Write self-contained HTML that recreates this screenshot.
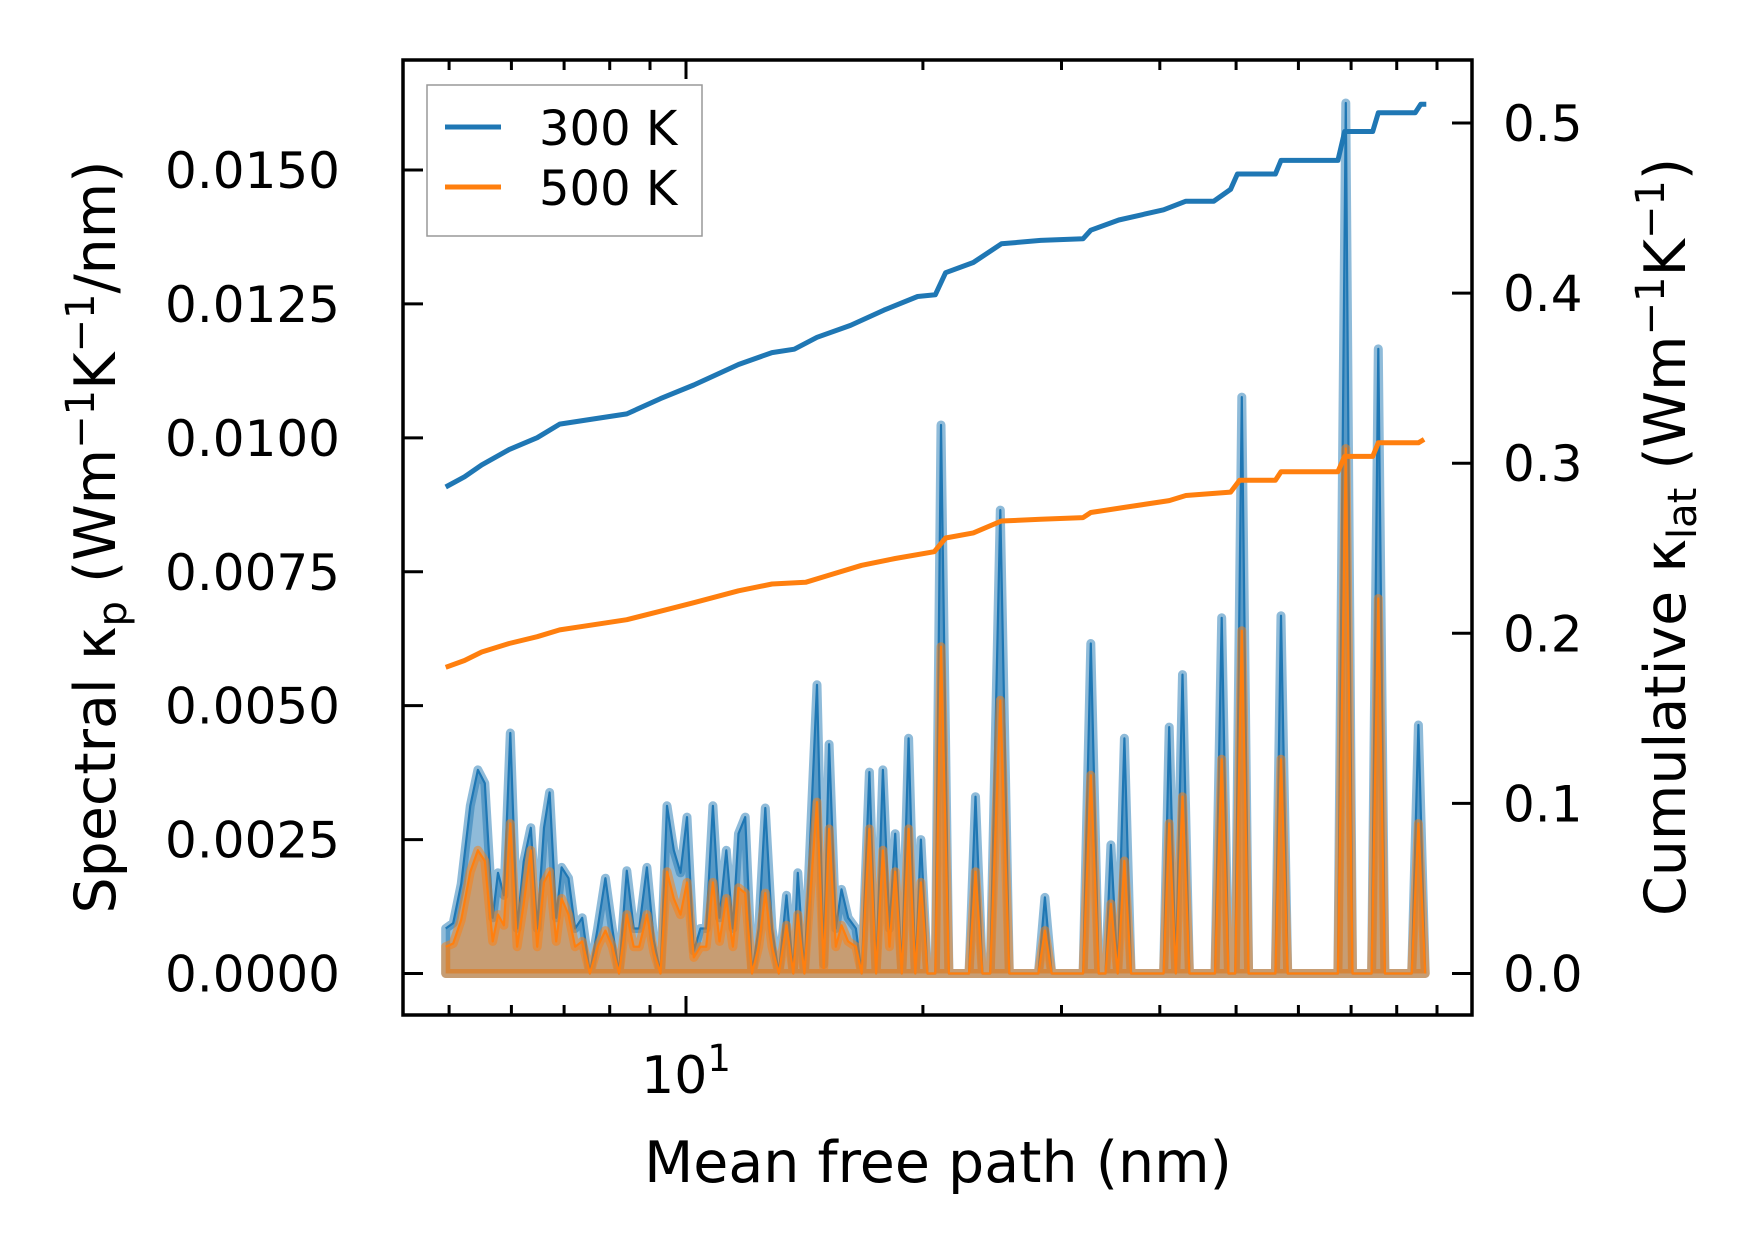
<!DOCTYPE html>
<html><head><meta charset="utf-8">
<style>
html,body{margin:0;padding:0;background:#fff;}
svg{display:block;font-family:"DejaVu Sans","Liberation Sans",sans-serif;}
</style></head>
<body>
<svg id="chart" width="1753" height="1253" viewBox="0 0 1753 1253" xmlns="http://www.w3.org/2000/svg">
<rect x="0" y="0" width="1753" height="1253" fill="#fff"/>
<g id="plot"></g>
<g id="axes"></g>
</svg>
<script>
const mfp = [4.95,5.06,5.18,5.32,5.44,5.55,5.68,5.77,5.87,5.98,
6.10,6.22,6.35,6.47,6.60,6.71,6.84,6.95,7.09,7.23,
7.38,7.55,7.72,7.90,8.06,8.22,8.41,8.58,8.72,8.92,
9.10,9.28,9.46,9.65,9.84,10.03,10.23,10.43,10.61,10.82,
11.03,11.25,11.47,11.66,11.89,12.13,12.37,12.61,12.86,13.12,
13.42,13.69,13.87,14.14,14.67,14.96,15.20,15.50,15.76,16.07,
16.44,16.72,17.10,17.44,17.79,18.14,18.44,18.80,19.18,19.56,
19.88,20.27,20.74,21.09,21.58,22.08,22.89,23.33,23.80,24.35,
25.08,25.75,28.04,28.58,29.15,31.96,32.69,33.45,34.12,34.67,
35.36,36.06,36.78,40.44,41.11,41.92,42.75,43.61,47.01,47.94,
48.90,49.87,50.84,51.86,56.10,57.02,58.15,67.35,68.92,70.29,
74.32,75.80,77.27,83.59,85.24,86.94];
const k300 = [0.00084,0.00094,0.00167,0.00313,0.0038,0.00355,0.00104,0.00188,0.00146,0.00449,
0.00084,0.00209,0.00272,0.00084,0.00272,0.00338,0.00104,0.00198,0.00178,0.00084,
0.00104,0,0.00084,0.00178,0.00084,0,0.00192,0.00084,0.00084,0.00198,
0.00063,0,0.00313,0.0023,0.00188,0.00292,0.00042,0.00084,0.00084,0.00313,
0.00104,0.0023,0.00084,0.00261,0.00292,0,0.00084,0.00309,0.00084,0,
0.00146,0,0.00188,0,0.00539,0.00017,0.00428,0.00084,0.00157,0.00104,
0.00084,0,0.00376,0,0.0038,0.00084,0.00261,0,0.00439,0,
0.0025,0,0,0.01024,0,0,0,0.0033,0,0,
0.00865,0,0,0.00142,0,0,0.00616,0,0,0.0024,
0,0.00439,0,0,0.0046,0,0.00558,0,0,0.00664,
0,0,0.01076,0,0,0.00668,0,0,0.01625,0,
0,0.01166,0,0,0.00464,0];
const k500 = [0.0005,0.00056,0.001,0.0019,0.0023,0.0021,0.0006,0.0011,0.0009,0.0028,
0.0005,0.0013,0.0023,0.0005,0.0017,0.0019,0.0006,0.0014,0.0011,0.0005,
0.0006,0,0.0005,0.0008,0.0005,0,0.0011,0.0005,0.0005,0.0011,
0.0004,0,0.0019,0.0014,0.0011,0.0017,0.0003,0.0005,0.0005,0.0017,
0.0006,0.0014,0.0005,0.0016,0.0015,0,0.0005,0.0015,0.0005,0,
0.0009,0,0.0011,0,0.0032,0.0001,0.0027,0.0005,0.0009,0.0006,
0.0005,0,0.0027,0,0.0023,0.0005,0.0019,0,0.0027,0,
0.0017,0,0,0.0061,0,0,0,0.0019,0,0,
0.0051,0,0,0.0008,0,0,0.0037,0,0,0.0013,
0,0.0021,0,0,0.0028,0,0.0033,0,0,0.0040,
0,0,0.0064,0,0,0.0040,0,0,0.0098,0,
0,0.0070,0,0,0.0028,0];
const cumX300 = [4.95,5.23,5.50,5.96,6.47,6.91,7.62,8.41,9.28,10.23,11.66,12.86,13.73,14.67,16.18,17.85,19.69,20.74,21.37,23.18,25.16,28.22,31.96,32.69,35.48,40.44,43.17,46.85,49.20,50.19,56.10,57.02,67.35,68.71,74.56,75.80,84.43,85.80,87.23];
const cum300 = [0.286,0.292,0.299,0.308,0.315,0.323,0.326,0.329,0.338,0.346,0.358,0.365,0.367,0.374,0.381,0.390,0.398,0.399,0.412,0.418,0.429,0.431,0.432,0.437,0.443,0.449,0.454,0.454,0.461,0.470,0.470,0.478,0.478,0.495,0.495,0.506,0.506,0.511,0.511];
const cumX500 = [4.95,5.23,5.50,5.96,6.47,6.91,7.62,8.41,9.28,10.23,11.66,12.86,14.19,15.15,16.72,18.44,20.68,21.37,23.18,25.16,28.22,31.96,32.69,36.06,41.11,43.17,49.20,50.52,56.10,57.02,67.35,68.71,74.56,75.80,85.24,86.68];
const cum500 = [0.180,0.184,0.189,0.194,0.198,0.202,0.205,0.208,0.213,0.218,0.225,0.229,0.230,0.234,0.240,0.244,0.248,0.256,0.259,0.266,0.267,0.268,0.271,0.274,0.278,0.281,0.283,0.290,0.290,0.295,0.295,0.304,0.304,0.312,0.312,0.314];
const yTicksL = [0,0.0025,0.005,0.0075,0.01,0.0125,0.015];
const yTickLabelsL = ["0.0000","0.0025","0.0050","0.0075","0.0100","0.0125","0.0150"];
const yTicksR = [0,0.1,0.2,0.3,0.4,0.5];
const yTickLabelsR = ["0.0","0.1","0.2","0.3","0.4","0.5"];
const xMinor = [5,6,7,8,9,20,30,40,50,60,70,80,90];

const L=403,R=1472,T=60,B=1015;
const sx = v => 686 + Math.log10(v/10)*787;
const syL = v => 973.5 - v*(973.5-170)/0.015;
const syR = v => 973.5 - v*(973.5-123)/0.5;
const NS="http://www.w3.org/2000/svg";
const plot=document.getElementById('plot'), axes=document.getElementById('axes');
function mk(tag,attrs,parent){const e=document.createElementNS(NS,tag);for(const k in attrs)e.setAttribute(k,attrs[k]);parent.appendChild(e);return e;}

function spectral(vals,color,name){
  let pts=mfp.map((m,i)=>sx(m).toFixed(1)+','+syL(vals[i]).toFixed(1));
  const poly=pts.join(' ')+' '+sx(mfp[mfp.length-1]).toFixed(1)+','+syL(0)+' '+sx(mfp[0]).toFixed(1)+','+syL(0);
  const f=mk('polygon',{points:poly,fill:color,'fill-opacity':0.5,stroke:color,'stroke-opacity':0.5,'stroke-width':9,'stroke-linejoin':'round'},plot);
  
  
  const l=mk('polyline',{points:pts.join(' '),fill:'none',stroke:color,'stroke-width':2.2,'stroke-linejoin':'round'},plot);
  
  
}
spectral(k300,'#1f77b4','spectral-300k');
spectral(k500,'#ff7f0e','spectral-500k');

function cum(xs,vals,color,name){
  const pts=xs.map((m,i)=>sx(m).toFixed(1)+','+syR(vals[i]).toFixed(1)).join(' ');
  const l=mk('polyline',{points:pts,fill:'none',stroke:color,'stroke-width':5,'stroke-linejoin':'round'},plot);
  
  
}
cum(cumX300,cum300,'#1f77b4','cumulative-300k');
cum(cumX500,cum500,'#ff7f0e','cumulative-500k');

const fr=mk('rect',{x:L,y:T,width:R-L,height:B-T,fill:'none',stroke:'#000','stroke-width':3.5},axes);


yTicksL.forEach((v,i)=>{
  const y=syL(v);
  const t=mk('line',{x1:L,x2:L+20,y1:y,y2:y,stroke:'#000','stroke-width':3},axes);
  
  
  const tx=mk('text',{x:340,y:y+18,'text-anchor':'end','font-size':50,fill:'#000'},axes);
  tx.textContent=yTickLabelsL[i];
  
  
});
yTicksR.forEach((v,i)=>{
  const y=syR(v);
  const t=mk('line',{x1:R-20,x2:R,y1:y,y2:y,stroke:'#000','stroke-width':3},axes);
  
  
  const tx=mk('text',{x:1503,y:y+18,'text-anchor':'start','font-size':50,fill:'#000'},axes);
  tx.textContent=yTickLabelsR[i];
  
  
});
[[10,19]].concat(xMinor.map(m=>[m,10])).forEach(([m,len])=>{
  const x=sx(m);
  const b=mk('line',{x1:x,x2:x,y1:B,y2:B-len,stroke:'#000','stroke-width':3},axes);
  
  
  const t=mk('line',{x1:x,x2:x,y1:T,y2:T+len,stroke:'#000','stroke-width':3},axes);
  
  
});
</script>
<svg style="position:absolute;left:0;top:0" width="1753" height="1253">
<text x="686" y="1093" text-anchor="middle" font-size="52" font-family="DejaVu Sans, sans-serif">10<tspan dy="-22" font-size="37">1</tspan></text>
<text x="938" y="1182" text-anchor="middle" font-size="57" font-family="DejaVu Sans, sans-serif">Mean free path (nm)</text>
<text transform="translate(115,537) rotate(-90)" text-anchor="middle" font-size="57" font-family="DejaVu Sans, sans-serif">Spectral κ<tspan font-size="40" dy="11">p</tspan><tspan dy="-11"> (Wm</tspan><tspan font-size="40" dy="-21">−1</tspan><tspan dy="21">K</tspan><tspan font-size="40" dy="-21">−1</tspan><tspan dy="21">/nm)</tspan></text>
<text transform="translate(1685,537) rotate(-90)" text-anchor="middle" font-size="57" font-family="DejaVu Sans, sans-serif">Cumulative κ<tspan font-size="40" dy="11">lat</tspan><tspan dy="-11"> (Wm</tspan><tspan font-size="40" dy="-21">−1</tspan><tspan dy="21">K</tspan><tspan font-size="40" dy="-21">−1</tspan><tspan dy="21">)</tspan></text>
<g>
<rect x="427" y="85" width="275" height="151" fill="#fff" fill-opacity="0.8" stroke="#999" stroke-width="1.5"/>
<line x1="445" x2="501" y1="127" y2="127" stroke="#1f77b4" stroke-width="5"/>
<text x="539" y="145" font-size="48" font-family="DejaVu Sans, sans-serif">300 K</text>
<line x1="445" x2="501" y1="187" y2="187" stroke="#ff7f0e" stroke-width="5"/>
<text x="539" y="205" font-size="48" font-family="DejaVu Sans, sans-serif">500 K</text>
</g>
</svg>
</body></html>
